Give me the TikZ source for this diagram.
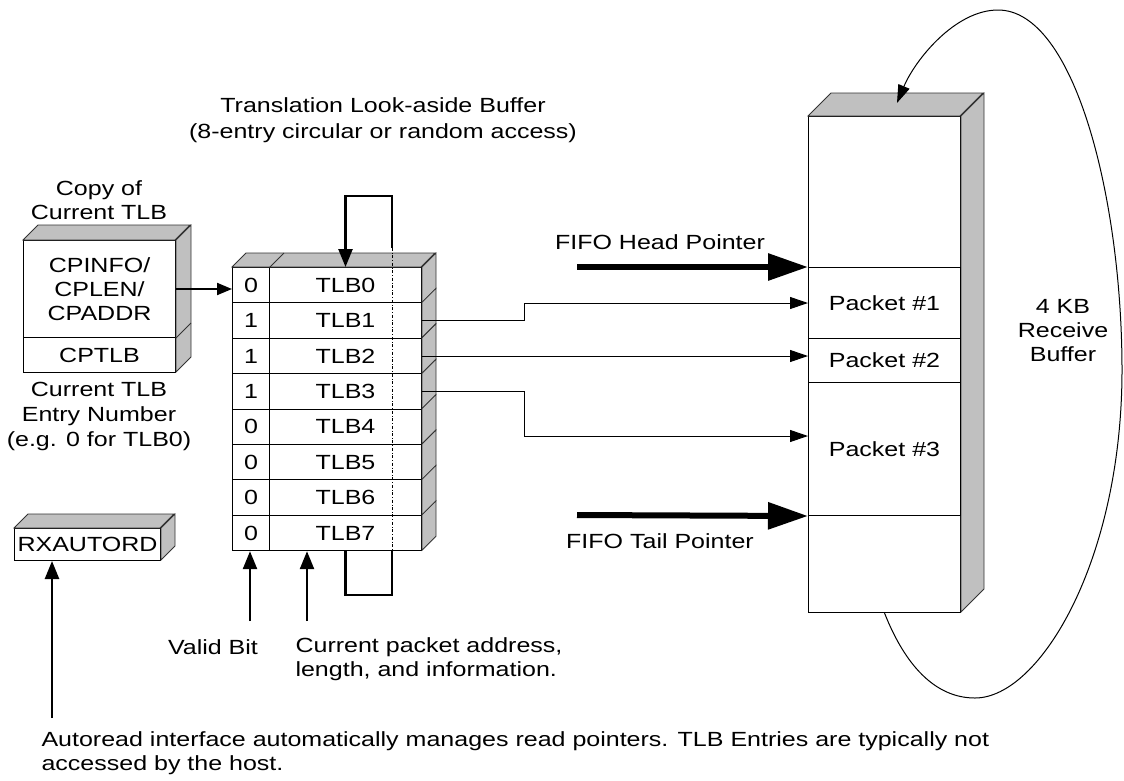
\documentclass[tikz,border=0pt]{standalone}
\usepackage{fontspec}
\setmainfont[FakeStretch=1.22]{Liberation Sans}
\usetikzlibrary{arrows.meta,positioning}
\definecolor{panel}{HTML}{C0C0C0}

\begin{document}
\begin{tikzpicture}[
		x=1pt, y=-1pt,
		font=\fontsize{20.5}{24}\selectfont,
		face/.style={draw, fill=white, line width=1pt, inner sep=0pt, anchor=north west},
		side/.style={draw=black!80, fill=panel, line width=0.8pt},
		cell/.style={face, minimum height=35.4pt},
		ptr/.style={line width=6pt, -{Triangle[length=40pt,width=26pt]}},
		link/.style={line width=1pt, -{Triangle[length=18pt,width=12pt]}},
		bold/.style={line width=2.5pt, -{Triangle[length=18pt,width=14pt]}},
	]
		\useasboundingbox (0,0) rectangle (1124,780);

		% copy of the current entry
		\node (cp) [face, minimum width=152pt, minimum height=97pt, align=center] at (23,240) {CPINFO/\\CPLEN/\\CPADDR};
		\node (ct) [face, minimum width=152pt, minimum height=35pt] at (23,337) {CPTLB};
		\filldraw[side] (cp.north west) -- ++(15,-15) -- ++(152,0) -- ++(-15,15) -- cycle;
		\filldraw[side] (cp.north east) -- ++(15,-15) -- ++(0,132) -- ++(-15,15) -- cycle;
		\draw[side] (cp.south east) -- ++(15,-15);
		\node (copyof) [align=center] at (99,200) {Copy of\\Current TLB};
		\node (entry) [align=center, font=\fontsize{20.5}{25}\selectfont] at (99,416) {Current TLB\\Entry Number\\(e.g. 0 for TLB0)};

		% translation look-aside buffer
		\node (title) [align=center, font=\fontsize{20.5}{26}\selectfont] at (383,120) {Translation Look-aside Buffer\\(8-entry circular or random access)};
		\foreach \i/\v in {0/0,1/1,2/1,3/1,4/0,5/0,6/0,7/0} {
			\node (v\i) [cell, minimum width=37pt] at (232,{267+35.4*\i}) {\v};
			\node (t\i) [cell, minimum width=152pt] at (269,{267+35.4*\i}) {TLB\i};
			\filldraw[side] (t\i.north east) -- ++(14,-14) -- ++(0,35.4) -- ++(-14,14) -- cycle;
		}
		\filldraw[side] (v0.north west) -- ++(14,-14) -- ++(189,0) -- ++(-14,14) -- cycle;
		\draw[side] (v0.north east) -- ++(14,-14);
		\coordinate (loop) at (392,248);
		\draw[dash dot, line width=0.8pt] (loop) -- (loop |- t7.south);
		\draw[bold] (loop) -- ++(0,-52) -| (t0.north);
		\draw[line width=2.5pt] (t7.south) -- ++(0,44) -| (loop |- t7.south);
		\draw[line width=2pt, -{Triangle[length=15pt,width=12pt]}] (cp.east) -- (cp.east -| v0.west);

		\coordinate (vb) at (250,621);
		\coordinate (cb) at (307,621);
		\draw[bold] (vb) -- (vb |- v7.south);
		\draw[bold] (cb) -- (cb |- t7.south);
		\node (valid) at (213,647) {Valid Bit};
		\node (cur) [align=left, anchor=north west] at (292,634) {Current packet address,\\length, and information.};

		% receive buffer
		\node (buf) [face, minimum width=152pt, minimum height=496pt] at (808,116) {};
		\filldraw[side] (buf.north west) -- ++(23,-23) -- ++(152,0) -- ++(-23,23) -- cycle;
		\filldraw[side] (buf.north east) -- ++(23,-23) -- ++(0,496) -- ++(-23,23) -- cycle;
		\node (p1) [face, minimum width=152pt, minimum height=71pt] at (808,267) {Packet \#1};
		\node (p2) [face, minimum width=152pt, minimum height=44pt] at (808,338) {Packet \#2};
		\node (p3) [face, minimum width=152pt, minimum height=133pt] at (808,382) {Packet \#3};
		\node (kb) [align=center] at (1063,331) {4 KB\\Receive\\Buffer};
		\coordinate (wrap) at (897,103);
		\draw[link] (buf.south) .. controls (905,665) and (935,698) .. (975,698)
			.. controls (1040,698) and (1122,560) .. (1122,370)
			.. controls (1122,200) and (1075,10) .. (998,10)
			.. controls (955,10) and (915,60) .. (wrap);

		% pointers
		\coordinate (hp) at (577,267);
		\coordinate (tp) at (577,515);
		\draw[ptr] (hp) -- (p1.north west);
		\draw[ptr] (tp) -- (p3.south west);
		\node (head) at (660,242) {FIFO Head Pointer};
		\node (tail) at (660,541) {FIFO Tail Pointer};
		\draw[link] (t1.east) -- ++(102,0) |- (p1.west);
		\draw[link] (t2.east) -- (t2.east -| p2.west);
		\draw[link] (t3.east) -- ++(102,0) |- ([yshift=13pt]p3.west);

		% autoread
		\node (rx) [face, minimum width=146pt, minimum height=32pt] at (14,528) {RXAUTORD};
		\filldraw[side] (rx.north west) -- ++(14,-14) -- ++(146,0) -- ++(-14,14) -- cycle;
		\filldraw[side] (rx.north east) -- ++(14,-14) -- ++(0,32) -- ++(-14,14) -- cycle;
		\coordinate (note) at (52,718);
		\draw[bold] (note) -- (note |- rx.south);
		\node (auto) [align=left, anchor=west] at (38,753) {Autoread interface automatically manages read pointers. TLB Entries are typically not\\accessed by the host.};
	\end{tikzpicture}
\end{document}
